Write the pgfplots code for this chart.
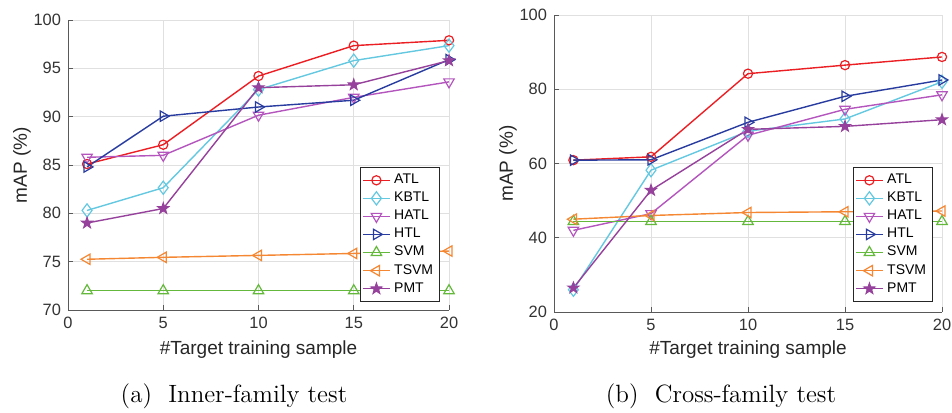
\documentclass[border=0pt]{standalone}
\usepackage{fontspec}
\setsansfont{Liberation Sans}
\usepackage{pgfplots}
\pgfplotsset{compat=1.18}
\usetikzlibrary{plotmarks}
\definecolor{cATL}{RGB}{235,30,35}
\definecolor{cKBTL}{RGB}{100,200,225}
\definecolor{cHATL}{RGB}{180,85,190}
\definecolor{cHTL}{RGB}{40,60,160}
\definecolor{cSVM}{RGB}{100,185,60}
\definecolor{cTSVM}{RGB}{245,135,50}
\definecolor{cPMT}{RGB}{150,65,155}
\pgfdeclareplotmark{pentagram}{%
  \pgfpathmoveto{\pgfpointpolar{90}{\pgfplotmarksize}}%
  \pgfpathlineto{\pgfpointpolar{126}{0.4\pgfplotmarksize}}%
  \pgfpathlineto{\pgfpointpolar{162}{\pgfplotmarksize}}%
  \pgfpathlineto{\pgfpointpolar{198}{0.4\pgfplotmarksize}}%
  \pgfpathlineto{\pgfpointpolar{234}{\pgfplotmarksize}}%
  \pgfpathlineto{\pgfpointpolar{270}{0.4\pgfplotmarksize}}%
  \pgfpathlineto{\pgfpointpolar{306}{\pgfplotmarksize}}%
  \pgfpathlineto{\pgfpointpolar{342}{0.4\pgfplotmarksize}}%
  \pgfpathlineto{\pgfpointpolar{18}{\pgfplotmarksize}}%
  \pgfpathlineto{\pgfpointpolar{54}{0.4\pgfplotmarksize}}%
  \pgfpathclose
  \pgfusepathqfillstroke
}
\pgfplotsset{
  mystyle/.style={
    scale only axis,
    xmin=0, xmax=20, xtick={0,5,10,15,20},
    grid=major, grid style={black!12, line width=0.4pt},
    axis x line*=bottom, axis y line*=left,
    axis line style={black!65, line width=0.5pt},
    tick align=inside, major tick length=2.5pt,
    tick style={black!65, line width=0.5pt},
    /pgf/number format/assume math mode=true,
    ticklabel style={font=\sffamily\fontsize{8.2}{9}\selectfont, text=black!80},
    label style={font=\sffamily\fontsize{9.5}{11}\selectfont, text=black!85},
    xlabel={\#Target training sample}, ylabel={mAP (\%)},
    clip=false,
    legend cell align=left,
    legend style={font=\sffamily\fontsize{7}{8}\selectfont, draw=black!85,
      line width=0.5pt, inner sep=1.2pt, row sep=-1.3pt, fill=white},
    legend image code/.code={\draw[mark repeat=2,mark phase=2] plot coordinates {(0cm,0cm)(0.23cm,0cm)(0.46cm,0cm)};},
    every axis plot/.append style={line width=0.7pt},
  },
  pATL/.style={color=cATL, mark=o, mark size=2.3pt, mark options={solid, line width=0.6pt}},
  pKBTL/.style={color=cKBTL, mark=diamond, mark size=3.3pt, mark options={solid, line width=0.6pt}},
  pHATL/.style={color=cHATL, mark=triangle, mark size=3pt, mark options={solid, rotate=180, line width=0.6pt}},
  pHTL/.style={color=cHTL, mark=triangle, mark size=3pt, mark options={solid, rotate=-90, line width=0.6pt}},
  pSVM/.style={color=cSVM, mark=triangle, mark size=3pt, mark options={solid, line width=0.6pt}},
  pTSVM/.style={color=cTSVM, mark=triangle, mark size=3pt, mark options={solid, rotate=90, line width=0.6pt}},
  pPMT/.style={color=cPMT, mark=pentagram, mark size=2.9pt, mark options={solid, fill=cPMT, line width=0.5pt}},
}
\begin{document}
\begin{tikzpicture}
\path[use as bounding box] (0,0) rectangle (476pt,-206pt);
\begin{axis}[mystyle, at={(34pt,-155pt)}, anchor=south west,
  width=190.5pt, height=145pt,
  ymin=70, ymax=100, ytick={70,75,...,100},
  xlabel style={at={(axis description cs:0.5,-0.138)}, anchor=center},
  ylabel style={at={(axis description cs:-0.1207,0.5)}, anchor=center},
  legend style={at={(axis description cs:1,0)}, anchor=south east, xshift=-4.5pt, yshift=4pt}]
\addplot[pATL] coordinates {(1,85.1)(5,87.1)(10,94.2)(15,97.35)(20,97.9)};
\addplot[pKBTL] coordinates {(1,80.3)(5,82.65)(10,92.8)(15,95.8)(20,97.35)};
\addplot[pHATL] coordinates {(1,85.8)(5,86.0)(10,90.15)(15,92.0)(20,93.6)};
\addplot[pHTL] coordinates {(1,84.8)(5,90.05)(10,91.0)(15,91.7)(20,95.9)};
\addplot[pSVM] coordinates {(1,72)(5,72)(10,72)(15,72)(20,72)};
\addplot[pTSVM] coordinates {(1,75.25)(5,75.45)(10,75.65)(15,75.85)(20,76.1)};
\addplot[pPMT] coordinates {(1,79.0)(5,80.5)(10,93.0)(15,93.3)(20,95.8)};
\legend{ATL,KBTL,HATL,HTL,SVM,TSVM,PMT}
\end{axis}
\begin{axis}[mystyle, at={(277pt,-156pt)}, anchor=south west,
  width=194pt, height=148.5pt,
  ymin=20, ymax=100, ytick={20,40,...,100},
  xlabel style={at={(axis description cs:0.5,-0.128)}, anchor=center},
  ylabel style={at={(axis description cs:-0.1186,0.5)}, anchor=center},
  legend style={at={(axis description cs:1,0)}, anchor=south east, xshift=-4.5pt, yshift=5pt}]
\addplot[pATL] coordinates {(1,60.9)(5,61.8)(10,84.2)(15,86.5)(20,88.7)};
\addplot[pKBTL] coordinates {(1,26.0)(5,58.2)(10,68.7)(15,72.0)(20,82.0)};
\addplot[pHATL] coordinates {(1,42.0)(5,46.5)(10,67.6)(15,74.6)(20,78.5)};
\addplot[pHTL] coordinates {(1,60.9)(5,61.0)(10,71.1)(15,78.1)(20,82.5)};
\addplot[pSVM] coordinates {(1,44.4)(5,44.4)(10,44.4)(15,44.4)(20,44.4)};
\addplot[pTSVM] coordinates {(1,45.0)(5,46.0)(10,46.8)(15,47.0)(20,47.2)};
\addplot[pPMT] coordinates {(1,26.5)(5,52.8)(10,69.2)(15,70.0)(20,71.8)};
\legend{ATL,KBTL,HATL,HTL,SVM,TSVM,PMT}
\end{axis}
\node[font=\fontsize{12.5}{15}\selectfont] at (117pt,-198pt) {(a)\ \ Inner-family test};
\node[font=\fontsize{12.5}{15}\selectfont] at (360.5pt,-198pt) {(b)\ \ Cross-family test};
\end{tikzpicture}
\end{document}
